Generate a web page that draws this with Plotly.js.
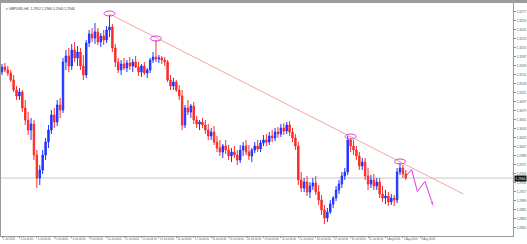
<!DOCTYPE html>
<html><head><meta charset="utf-8">
<script src="https://cdn.plot.ly/plotly-3.0.1.min.js"></script>
<style>html,body{margin:0;padding:0;background:#fff;}#chart{width:527px;height:244px;}</style>
</head><body><div id="chart"></div>
<script>
const symbolName = 'GBPUSD,H4';
const openP = [1.3156,1.3166,1.3160,1.3154,1.3140,1.3120,1.3108,1.3116,1.3084,1.3060,
1.3040,1.3052,1.2990,1.2944,1.2960,1.2990,1.3016,1.3040,1.3070,1.3056,
1.3090,1.3080,1.3176,1.3188,1.3168,1.3200,1.3184,1.3196,1.3168,1.3150,
1.3214,1.3232,1.3224,1.3236,1.3216,1.3228,1.3220,1.3240,1.3246,1.3204,
1.3176,1.3160,1.3172,1.3164,1.3174,1.3168,1.3176,1.3166,1.3156,1.3168,
1.3154,1.3160,1.3180,1.3186,1.3182,1.3184,1.3180,1.3176,1.3140,1.3128,
1.3136,1.3120,1.3108,1.3050,1.3084,1.3076,1.3088,1.3060,1.3052,1.3056,
1.3050,1.3040,1.3028,1.3036,1.3016,1.3004,1.2996,1.3008,1.3000,1.2988,
1.2996,1.2990,1.2980,1.3000,1.3008,1.2996,1.2988,1.3000,1.3008,1.3002,
1.3014,1.3020,1.3016,1.3028,1.3024,1.3036,1.3032,1.3044,1.3038,1.3050,
1.3036,1.3024,1.3008,1.2940,1.2924,1.2936,1.2916,1.2928,1.2934,1.2916,
1.2900,1.2880,1.2864,1.2876,1.2892,1.2904,1.2920,1.2932,1.2948,1.2956,
1.3020,1.3008,1.3000,1.2988,1.2968,1.2976,1.2948,1.2932,1.2940,1.2928,
1.2936,1.2912,1.2904,1.2908,1.2896,1.2904,1.2900,1.2956,1.2964,1.2952];
const highP = [1.3172,1.3174,1.3168,1.3160,1.3150,1.3128,1.3124,1.3120,1.3100,1.3076,
1.3064,1.3060,1.3000,1.2970,1.3000,1.3024,1.3050,1.3080,1.3084,1.3100,
1.3104,1.3184,1.3200,1.3204,1.3212,1.3216,1.3208,1.3204,1.3190,1.3220,
1.3240,1.3244,1.3254,1.3244,1.3234,1.3240,1.3248,1.3270,1.3252,1.3212,
1.3184,1.3180,1.3184,1.3180,1.3186,1.3182,1.3188,1.3176,1.3172,1.3176,
1.3164,1.3184,1.3196,1.3220,1.3190,1.3188,1.3186,1.3180,1.3150,1.3144,
1.3140,1.3130,1.3120,1.3090,1.3100,1.3092,1.3096,1.3068,1.3060,1.3064,
1.3060,1.3052,1.3044,1.3048,1.3028,1.3020,1.3012,1.3020,1.3010,1.3004,
1.3008,1.3000,1.3010,1.3016,1.3020,1.3010,1.3004,1.3016,1.3020,1.3020,
1.3030,1.3032,1.3036,1.3040,1.3044,1.3046,1.3052,1.3054,1.3056,1.3058,
1.3044,1.3032,1.3016,1.2956,1.2944,1.2948,1.2936,1.2944,1.2948,1.2930,
1.2910,1.2890,1.2884,1.2900,1.2908,1.2928,1.2940,1.2956,1.2964,1.3028,
1.3024,1.3020,1.3008,1.2996,1.2984,1.2984,1.2964,1.2950,1.2952,1.2944,
1.2944,1.2928,1.2920,1.2916,1.2912,1.2910,1.2964,1.2974,1.2970,1.2960];
const lowP = [1.3150,1.3156,1.3148,1.3136,1.3116,1.3100,1.3100,1.3076,1.3050,1.3030,
1.3020,1.2980,1.2924,1.2930,1.2952,1.2980,1.3004,1.3032,1.3044,1.3048,
1.3064,1.3074,1.3160,1.3156,1.3160,1.3176,1.3168,1.3160,1.3140,1.3144,
1.3206,1.3216,1.3212,1.3210,1.3206,1.3210,1.3214,1.3226,1.3196,1.3166,
1.3154,1.3150,1.3160,1.3156,1.3160,1.3156,1.3164,1.3148,1.3146,1.3150,
1.3144,1.3154,1.3174,1.3176,1.3174,1.3172,1.3168,1.3136,1.3120,1.3120,
1.3116,1.3100,1.3040,1.3044,1.3070,1.3064,1.3052,1.3044,1.3040,1.3044,
1.3032,1.3020,1.3020,1.3010,1.2996,1.2988,1.2984,1.2992,1.2980,1.2976,
1.2984,1.2970,1.2974,1.2988,1.2990,1.2980,1.2976,1.2994,1.2996,1.2996,
1.3008,1.3008,1.3010,1.3016,1.3018,1.3024,1.3026,1.3030,1.3032,1.3028,
1.3016,1.3000,1.2930,1.2916,1.2916,1.2908,1.2904,1.2920,1.2910,1.2890,
1.2870,1.2852,1.2856,1.2872,1.2884,1.2898,1.2912,1.2924,1.2940,1.2950,
1.2996,1.2990,1.2980,1.2960,1.2960,1.2940,1.2920,1.2924,1.2920,1.2920,
1.2904,1.2896,1.2892,1.2888,1.2890,1.2888,1.2894,1.2950,1.2944,1.2940];
const closeP = [1.3166,1.3160,1.3154,1.3140,1.3120,1.3108,1.3116,1.3084,1.3060,1.3040,
1.3052,1.2990,1.2944,1.2960,1.2990,1.3016,1.3040,1.3070,1.3056,1.3090,
1.3080,1.3176,1.3188,1.3168,1.3200,1.3184,1.3196,1.3168,1.3150,1.3214,
1.3232,1.3224,1.3236,1.3216,1.3228,1.3220,1.3240,1.3246,1.3204,1.3176,
1.3160,1.3172,1.3164,1.3174,1.3168,1.3176,1.3166,1.3156,1.3168,1.3154,
1.3160,1.3180,1.3186,1.3182,1.3184,1.3180,1.3176,1.3140,1.3128,1.3136,
1.3120,1.3108,1.3050,1.3084,1.3076,1.3088,1.3060,1.3052,1.3056,1.3050,
1.3040,1.3028,1.3036,1.3016,1.3004,1.2996,1.3008,1.3000,1.2988,1.2996,
1.2990,1.2980,1.3000,1.3008,1.2996,1.2988,1.3000,1.3008,1.3002,1.3014,
1.3020,1.3016,1.3028,1.3024,1.3036,1.3032,1.3044,1.3038,1.3050,1.3036,
1.3024,1.3008,1.2940,1.2924,1.2936,1.2916,1.2928,1.2934,1.2916,1.2900,
1.2880,1.2864,1.2876,1.2892,1.2904,1.2920,1.2932,1.2948,1.2956,1.3020,
1.3008,1.3000,1.2988,1.2968,1.2976,1.2948,1.2932,1.2940,1.2928,1.2936,
1.2912,1.2904,1.2908,1.2896,1.2904,1.2900,1.2956,1.2964,1.2952,1.2944];
const dayLabels = ['2 Jul 2018','3 Jul 04:00','4 Jul 04:00','5 Jul 04:00','6 Jul 04:00','9 Jul 04:00','10 Jul 04:00','11 Jul 04:00','12 Jul 04:00','13 Jul 04:00','16 Jul 04:00','17 Jul 04:00','18 Jul 04:00','19 Jul 04:00','20 Jul 04:00','23 Jul 04:00','24 Jul 04:00','25 Jul 04:00','26 Jul 04:00','27 Jul 04:00','30 Jul 04:00','31 Jul 04:00','1 Aug 04:00','2 Aug 04:00','3 Aug 04:00'];
const yTicks = [1.3277,1.3259,1.3241,1.3223,1.3205,1.3187,1.3169,1.3151,1.3133,1.3115,1.3097,1.3079,1.3061,1.3043,1.3025,1.3007,1.2989,1.2971,1.2953,1.2935,1.2917,1.2899,1.2881,1.2863,1.2845,1.2827];
const circleBars = [37, 53, 120, 137];
const trendBars = [37, 158.8];
const trendPrices = [1.3272, 1.2912];
const forecastBars = [138.7, 141, 143, 145.6, 148.5];
const forecastPrices = [1.2945, 1.2961, 1.2917, 1.2937, 1.2887];

const idx = closeP.map((_, i) => i);
const barsPerDay = 6;
const tickBars = dayLabels.map((_, k) => k * barsPerDay);
const n = closeP.length;
const lastClose = closeP[n - 1];
const magenta = '#dc3cdc';

const traces = [
  {type:'candlestick', x: idx, open: openP, high: highP, low: lowP, close: closeP,
   increasing:{line:{color:'#1f35ff', width:1}, fillcolor:'#1f35ff'},
   decreasing:{line:{color:'#ff2b2b', width:1}, fillcolor:'#ff2b2b'},
   whiskerwidth:0, hoverinfo:'skip', showlegend:false},
  {type:'scatter', mode:'lines', x: trendBars, y: trendPrices,
   line:{color:'#f5a49c', width:1}, hoverinfo:'skip', showlegend:false},
  {type:'scatter', mode:'lines+markers', x: forecastBars, y: forecastPrices,
   line:{color:magenta, width:1},
   marker:{symbol:'arrow', angleref:'previous', color:magenta,
           size: forecastBars.map((_, i) => i === forecastBars.length - 1 ? 6 : 0)},
   hoverinfo:'skip', showlegend:false}
];

const shapes = [
  {type:'line', xref:'paper', x0:0, x1:1, yref:'y', y0:lastClose, y1:lastClose,
   line:{color:'#c8c8c8', width:1}, layer:'below'},
  {type:'rect', xref:'paper', x0:-0.01, x1:1.05, yref:'paper', y0:1.0, y1:1.013,
   fillcolor:'#9c9c9c', line:{width:0}}
];
circleBars.forEach(b => {
  const c = highP[b] + 0.0003;
  shapes.push({type:'circle', xref:'x', yref:'y', x0:b - 1.9, x1:b + 1.9,
    y0:c - 0.0005, y1:c + 0.0005, line:{color:magenta, width:1}});
});

const title = '\u25BE ' + symbolName + '  ' + [openP[n-1], highP[n-1], lowP[n-1], closeP[n-1]].map(v => v.toFixed(4)).join(' ');

const layout = {
  width:527, height:244,
  margin:{l:1, r:14, t:3, b:8},
  paper_bgcolor:'#ffffff', plot_bgcolor:'#ffffff',
  showlegend:false,
  font:{family:'Liberation Sans, Arial, sans-serif', size:3, color:'#555'},
  xaxis:{range:[-0.344, 175.9], tickmode:'array', tickvals: tickBars, ticktext: dayLabels,
    ticks:'outside', ticklen:1, tickcolor:'#888', showgrid:false, zeroline:false,
    showline:true, mirror:true, linecolor:'#9a9a9a', linewidth:1, tickangle:0,
    rangeslider:{visible:false}, ticklabelposition:'outside right',
    tickfont:{size:2.6, color:'#555'}},
  yaxis:{side:'right', range:[1.2828, 1.3294], tickmode:'array', tickvals: yTicks,
    tickformat:'.4f', ticks:'outside', ticklen:2, tickcolor:'#888', showgrid:false,
    zeroline:false, showline:true, mirror:true, linecolor:'#9a9a9a', linewidth:1,
    tickfont:{size:3.2, color:'#555'}},
  shapes: shapes,
  annotations:[
    {xref:'paper', yref:'paper', x:0.006, y:0.992, xanchor:'left', yanchor:'top',
     text: title, showarrow:false, font:{size:3.4, color:'#333'}},
    {xref:'paper', yref:'y', x:1, y:lastClose, xanchor:'left', yanchor:'middle',
     text: lastClose.toFixed(4), showarrow:false, bgcolor:'#111', borderpad:0.6,
     font:{size:3.2, color:'#fff'}, xshift:1}
  ]
};

Plotly.newPlot('chart', traces, layout, {staticPlot:true, displayModeBar:false});
</script>
</body></html>
